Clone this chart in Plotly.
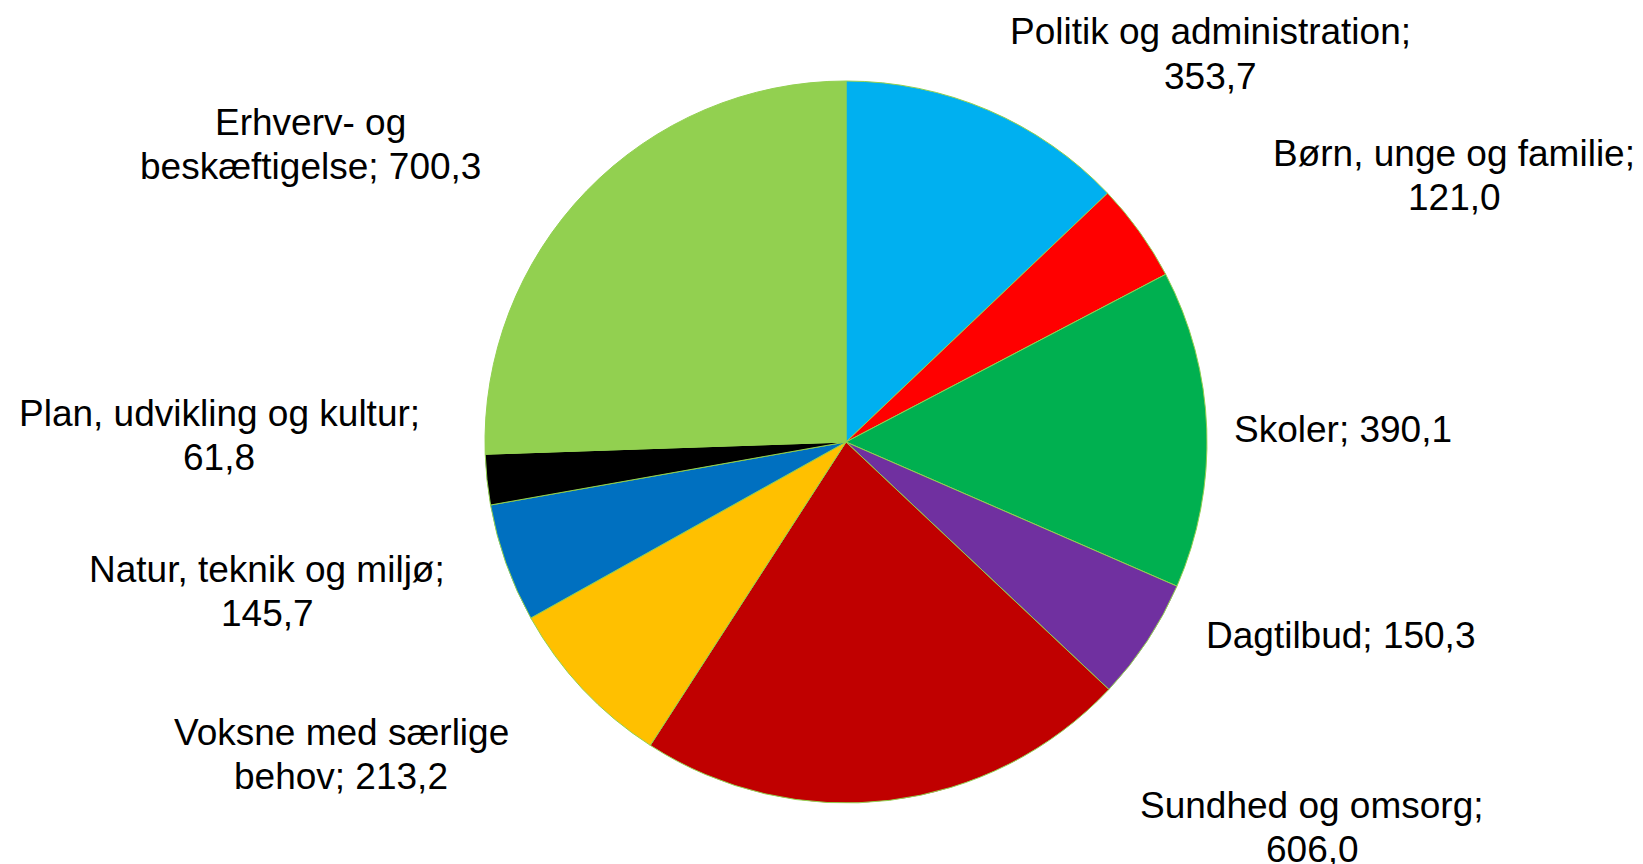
import plotly.graph_objects as go

categories = [
    "Politik og administration",
    "Børn, unge og familie",
    "Skoler",
    "Dagtilbud",
    "Sundhed og omsorg",
    "Voksne med særlige behov",
    "Natur, teknik og miljø",
    "Plan, udvikling og kultur",
    "Erhverv- og beskæftigelse",
]
values = [353.7, 121.0, 390.1, 150.3, 606.0, 213.2, 145.7, 61.8, 700.3]
colors = ["#00B0F0", "#FF0000", "#00B050", "#7030A0", "#C00000",
          "#FFC000", "#0070C0", "#000000", "#92D050"]

# label layout: number of words on first line (0 = single line), and label centre in pixels
label_breaks = [3, 4, 0, 0, 3, 3, 4, 4, 2]
label_px = [(1210, 54), (1454, 176), (1343, 430), (1340, 635), (1312, 827),
            (341, 754), (267, 591), (219, 435), (310, 144)]
LINE_GAP = 44
FONT_SIZE = 37

W, H = 1643, 864
cx, cy, r = 846, 442, 361


def make_lines(name, val, brk):
    words = f"{name}; {val:.1f}".replace(".", ",").split(" ")
    if brk == 0:
        return [" ".join(words)]
    return [" ".join(words[:brk]), " ".join(words[brk:])]


fig = go.Figure(go.Pie(
    labels=categories,
    values=values,
    sort=False,
    direction="clockwise",
    rotation=0,
    textinfo="none",
    hoverinfo="label+value",
    marker=dict(colors=colors, line=dict(color="#92D050", width=1)),
    domain=dict(x=[(cx - r) / W, (cx + r) / W], y=[1 - (cy + r) / H, 1 - (cy - r) / H]),
    showlegend=False,
))

annotations = []
for name, val, brk, (px, py) in zip(categories, values, label_breaks, label_px):
    lines = make_lines(name, val, brk)
    n = len(lines)
    for i, line in enumerate(lines):
        ly = py + (i - (n - 1) / 2) * LINE_GAP
        annotations.append(dict(
            text=line,
            x=px / W, y=1 - ly / H, xref="paper", yref="paper",
            xanchor="center", yanchor="middle", align="center",
            showarrow=False,
            font=dict(family="Liberation Sans, Arial, sans-serif", size=FONT_SIZE, color="#000000"),
        ))

fig.update_layout(
    width=W, height=H,
    autosize=False,
    margin=dict(l=0, r=0, t=0, b=0),
    paper_bgcolor="white",
    plot_bgcolor="white",
    annotations=annotations,
)

fig.write_html(
    "out.html",
    config={"displayModeBar": False},
    post_script="document.body.style.margin='0';document.body.style.padding='0';document.body.style.overflow='hidden';",
)
